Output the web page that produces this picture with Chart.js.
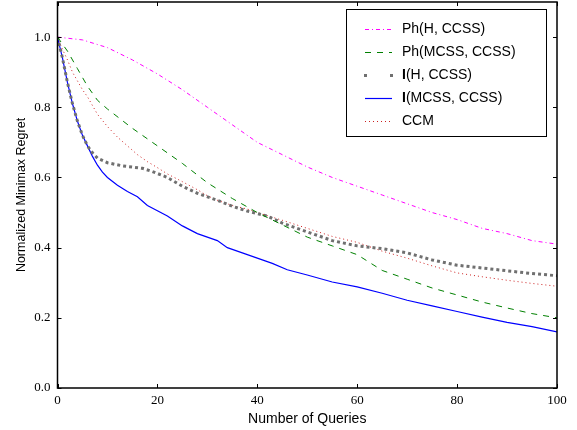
<!DOCTYPE html>
<html>
<head>
<meta charset="utf-8">
<script src="https://cdn.jsdelivr.net/npm/chart.js@4/dist/chart.umd.min.js"></script>
<style>
html,body{margin:0;padding:0;background:#fff;}
canvas{display:block;}
</style>
</head>
<body>
<canvas id="c" width="577" height="430"></canvas>
<script>
// ---- data ----
const xTicks = [0, 20, 40, 60, 80, 100];
const yTicks = [0.0, 0.2, 0.4, 0.6, 0.8, 1.0];

const seriesLabels = ["Ph(H, CCSS)", "Ph(MCSS, CCSS)", "I(H, CCSS)", "I(MCSS, CCSS)", "CCM"];

const qPhH = [0, 5, 10, 15, 20, 25, 30, 35, 40, 45, 50, 55, 60, 65, 70, 75, 80, 85, 90, 95, 100];
const vPhH = [1.0, 0.992, 0.97, 0.935, 0.895, 0.85, 0.80, 0.75, 0.70, 0.665, 0.63, 0.60, 0.575, 0.55, 0.525, 0.50, 0.48, 0.455, 0.44, 0.42, 0.41];

const qPhM = [0, 2, 4, 6, 8, 10, 15, 20, 25, 30, 35, 40, 45, 50, 55, 60, 65, 70, 75, 80, 85, 90, 95, 100];
const vPhM = [1.0, 0.96, 0.91, 0.86, 0.82, 0.795, 0.74, 0.69, 0.64, 0.585, 0.54, 0.50, 0.465, 0.43, 0.405, 0.38, 0.335, 0.31, 0.285, 0.265, 0.245, 0.228, 0.212, 0.20];

const qIH = [0, 1, 2, 3, 4, 5, 6, 7, 8, 10, 13, 17, 19, 22, 25, 28, 32, 35, 38, 42, 45, 50, 55, 60, 65, 70, 75, 80, 85, 90, 95, 100];
const vIH = [1.0, 0.94, 0.87, 0.81, 0.76, 0.72, 0.69, 0.67, 0.655, 0.642, 0.633, 0.626, 0.617, 0.60, 0.575, 0.555, 0.535, 0.518, 0.504, 0.49, 0.47, 0.445, 0.42, 0.405, 0.397, 0.385, 0.365, 0.35, 0.342, 0.334, 0.326, 0.32];

const qIM = [0, 1, 2, 3, 4, 5, 6, 7, 8, 9, 10, 12, 14, 16, 18, 20, 22, 25, 28, 30, 32, 34, 37, 40, 43, 46, 50, 55, 60, 65, 70, 75, 80, 85, 90, 95, 100];
const vIM = [1.0, 0.94, 0.87, 0.81, 0.76, 0.72, 0.69, 0.66, 0.635, 0.615, 0.60, 0.578, 0.56, 0.545, 0.52, 0.505, 0.49, 0.462, 0.44, 0.43, 0.42, 0.40, 0.385, 0.37, 0.355, 0.337, 0.322, 0.302, 0.288, 0.27, 0.25, 0.234, 0.218, 0.202, 0.187, 0.175, 0.16];

const qCCM = [0, 1, 2, 3, 4, 5, 6, 8, 10, 12, 14, 16, 18, 20, 22, 25, 28, 30, 32, 35, 38, 40, 45, 50, 55, 60, 65, 70, 75, 80, 85, 90, 95, 100];
const vCCM = [1.0, 0.965, 0.935, 0.90, 0.875, 0.85, 0.83, 0.78, 0.745, 0.715, 0.69, 0.665, 0.645, 0.628, 0.61, 0.588, 0.565, 0.548, 0.535, 0.52, 0.51, 0.50, 0.478, 0.455, 0.432, 0.415, 0.39, 0.37, 0.348, 0.328, 0.317, 0.307, 0.298, 0.29];

function pts(xs, ys) { return xs.map((x, i) => ({x: x, y: ys[i]})); }

const SERIF = '"Liberation Serif", "Times New Roman", serif';
const SANS = '"Liberation Sans", Arial, sans-serif';

const datasets = [
  {label: seriesLabels[0], data: pts(qPhH, vPhH), borderColor: '#ff00ff', borderWidth: 1, borderDash: [4, 3, 1, 3], legendKind: 'line'},
  {label: seriesLabels[1], data: pts(qPhM, vPhM), borderColor: '#008000', borderWidth: 1, borderDash: [6, 6], legendKind: 'line'},
  {label: seriesLabels[2], data: pts(qIH, vIH), borderColor: '#707070', borderWidth: 3, borderDash: [3, 3], legendKind: 'dots', boldFirst: true},
  {label: seriesLabels[3], data: pts(qIM, vIM), borderColor: '#0000ff', borderWidth: 1.2, borderDash: [], legendKind: 'line', boldFirst: true},
  {label: seriesLabels[4], data: pts(qCCM, vCCM), borderColor: '#cc2020', borderWidth: 1, borderDash: [1, 3], legendKind: 'line'}
];
datasets.forEach(d => { d.pointRadius = 0; d.fill = false; d.tension = 0; d.borderCapStyle = 'butt'; });

// frame + inward ticks
const framePlugin = {
  id: 'frame',
  afterDatasetsDraw(chart) {
    const {ctx, chartArea: a, scales} = chart;
    ctx.save();
    ctx.strokeStyle = '#000';
    ctx.lineWidth = 1;
    xTicks.forEach(v => {
      const px = Math.round(scales.x.getPixelForValue(v)) + 0.5;
      ctx.beginPath();
      ctx.moveTo(px, a.bottom); ctx.lineTo(px, a.bottom - 4);
      ctx.moveTo(px, a.top); ctx.lineTo(px, a.top + 4);
      ctx.stroke();
    });
    yTicks.forEach(v => {
      const py = Math.round(scales.y.getPixelForValue(v)) + 0.5;
      ctx.beginPath();
      ctx.moveTo(a.left, py); ctx.lineTo(a.left + 4, py);
      ctx.moveTo(a.right, py); ctx.lineTo(a.right - 4, py);
      ctx.stroke();
    });
    ctx.lineWidth = 1.5;
    ctx.strokeRect(a.left, a.top, a.right - a.left, a.bottom - a.top);
    ctx.restore();
  }
};

// legend drawn inside the plot area
const legendPlugin = {
  id: 'boxLegend',
  afterDraw(chart) {
    const {ctx} = chart;
    const bx = 346.5, by = 9.5, bw = 200, bh = 127;
    ctx.save();
    ctx.fillStyle = '#fff';
    ctx.fillRect(bx, by, bw, bh);
    ctx.strokeStyle = '#000';
    ctx.lineWidth = 1;
    ctx.setLineDash([]);
    ctx.strokeRect(bx, by, bw, bh);
    chart.data.datasets.forEach((d, i) => {
      const y = 29.5 + i * 23;
      const x0 = 365, x1 = 392;
      ctx.strokeStyle = d.borderColor;
      ctx.fillStyle = d.borderColor;
      if (d.legendKind === 'dots') {
        ctx.fillRect(x0 - 1, y - 1.5, 3, 3);
        ctx.fillRect(x1 - 2, y - 1.5, 3, 3);
      } else {
        ctx.lineWidth = d.borderWidth;
        ctx.setLineDash(d.borderDash);
        ctx.beginPath();
        ctx.moveTo(x0, y); ctx.lineTo(x1, y);
        ctx.stroke();
        ctx.setLineDash([]);
      }
      ctx.fillStyle = '#000';
      ctx.textBaseline = 'middle';
      ctx.textAlign = 'left';
      let tx = 402;
      let text = d.label;
      if (d.boldFirst) {
        ctx.font = 'bold 14px ' + SANS;
        const first = text.charAt(0);
        ctx.fillText(first, tx, y);
        tx += ctx.measureText(first).width;
        text = text.slice(1);
      }
      ctx.font = '14px ' + SANS;
      ctx.fillText(text, tx, y);
    });
    ctx.restore();
  }
};

function noPad(s) { s.paddingTop = 0; s.paddingBottom = 0; s.paddingLeft = 0; s.paddingRight = 0; }

new Chart(document.getElementById('c'), {
  type: 'line',
  data: {datasets: datasets},
  options: {
    responsive: false,
    animation: false,
    devicePixelRatio: 1,
    layout: {padding: {left: 0, right: 20, top: 2, bottom: 0}},
    plugins: {legend: {display: false}, tooltip: {enabled: false}},
    scales: {
      x: {
        type: 'linear', min: 0, max: 100,
        grid: {display: false, drawTicks: false},
        border: {display: false},
        ticks: {stepSize: 20, padding: 5, color: '#000', font: {family: SERIF, size: 13}, maxRotation: 0,
                callback: v => xTicks.includes(v) ? String(v) : ''},
        title: {display: true, text: 'Number of Queries', color: '#000', font: {family: SANS, size: 14}, padding: {top: 0, bottom: 2.5}},
        afterFit(s) { s.height = 42; noPad(s); }
      },
      y: {
        type: 'linear', min: 0, max: 1.1,
        grid: {display: false, drawTicks: false},
        border: {display: false},
        ticks: {stepSize: 0.2, includeBounds: false, padding: 7, color: '#000', font: {family: SERIF, size: 13},
                callback: v => v.toFixed(1)},
        title: {display: true, text: 'Normalized Minimax Regret', color: '#000', font: {family: SANS, size: 12.5}, padding: {top: 14, bottom: 0}},
        afterFit(s) { s.width = 57.5; noPad(s); }
      }
    }
  },
  plugins: [framePlugin, legendPlugin]
});
</script>
</body>
</html>
